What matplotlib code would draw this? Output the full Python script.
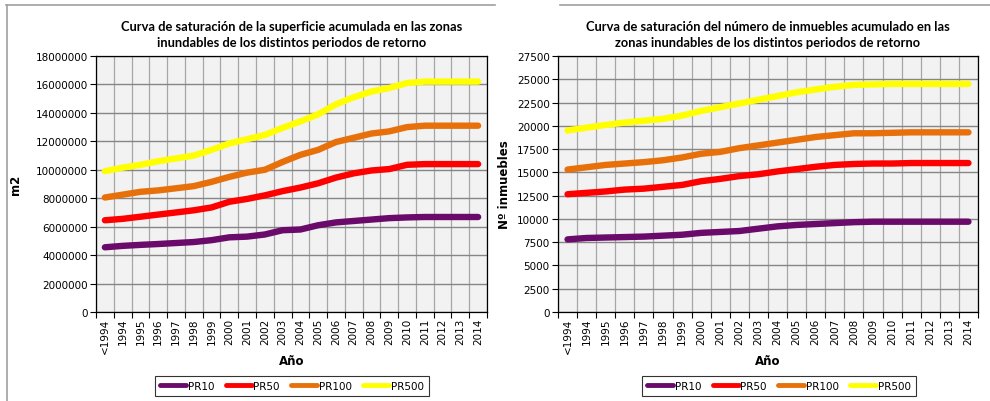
import matplotlib
matplotlib.use("Agg")
import matplotlib.pyplot as plt
from matplotlib.lines import Line2D
from matplotlib.ticker import FuncFormatter

categorias = ['<1994'] + [str(a) for a in range(1994, 2015)]
series = ['PR10', 'PR50', 'PR100', 'PR500']
colores = ['#6a0a6a', '#ff0000', '#e8700a', '#ffff00']

# superficie acumulada (m2)
sup_pr10 = [4550000, 4650000, 4720000, 4780000, 4850000, 4920000, 5050000, 5250000, 5300000, 5450000,
            5750000, 5800000, 6100000, 6300000, 6400000, 6500000, 6600000, 6650000, 6680000, 6680000,
            6680000, 6680000]
sup_pr50 = [6450000, 6550000, 6700000, 6850000, 7000000, 7150000, 7350000, 7750000, 7950000, 8200000,
            8500000, 8750000, 9050000, 9450000, 9750000, 9950000, 10050000, 10350000, 10400000, 10400000,
            10400000, 10400000]
sup_pr100 = [8050000, 8250000, 8450000, 8550000, 8700000, 8850000, 9150000, 9500000, 9800000, 10000000,
             10550000, 11050000, 11400000, 11950000, 12250000, 12550000, 12700000, 13000000, 13100000,
             13100000, 13100000, 13100000]
sup_pr500 = [9900000, 10150000, 10350000, 10600000, 10800000, 11000000, 11400000, 11850000, 12150000,
             12450000, 12950000, 13400000, 13900000, 14600000, 15100000, 15500000, 15750000, 16100000,
             16200000, 16200000, 16200000, 16200000]

# numero de inmuebles
inm_pr10 = [7800, 7950, 8000, 8050, 8100, 8200, 8300, 8500, 8600, 8700, 8950, 9200, 9350, 9450,
            9550, 9650, 9700, 9700, 9700, 9700, 9700, 9700]
inm_pr50 = [12650, 12800, 12950, 13150, 13250, 13450, 13650, 14050, 14300, 14600, 14800, 15100,
            15350, 15600, 15800, 15900, 15950, 15950, 16000, 16000, 16000, 16000]
inm_pr100 = [15300, 15550, 15800, 15950, 16100, 16300, 16600, 17000, 17200, 17600, 17900, 18200,
             18500, 18800, 19000, 19200, 19200, 19250, 19300, 19300, 19300, 19300]
inm_pr500 = [19500, 19800, 20100, 20350, 20550, 20750, 21100, 21600, 22000, 22400, 22800, 23200,
             23600, 23900, 24200, 24400, 24450, 24500, 24500, 24500, 24500, 24500]

titulo1 = 'Curva de saturación de la superficie acumulada en las zonas\ninundables de los distintos periodos de retorno'
titulo2 = 'Curva de saturación del número de inmuebles acumulado en las\nzonas inundables de los distintos periodos de retorno'

plt.rcParams['font.family'] = ['DejaVu Sans']

W, H = 990, 402
fig = plt.figure(figsize=(9.9, 4.02), dpi=100)


def px_axes(x0, y0, x1, y1):
    return fig.add_axes([x0 / W, 1 - y1 / H, (x1 - x0) / W, (y1 - y0) / H])


def draw_panel(ax, datos, ymax, ystep, titulo, ylabel, ytitle_x, leg_x0, leg_x1):
    n = len(categorias)
    xs = list(range(n))
    ax.set_facecolor('#f2f2f2')
    for vals, nombre, c in zip(datos, series, colores):
        ax.plot(xs, vals, color=c, lw=4.6, solid_capstyle='round', solid_joinstyle='round',
                label=nombre, zorder=3)
    ax.set_xlim(-0.5, n - 0.5)
    ax.set_ylim(0, ymax)
    ax.set_yticks(range(0, ymax + 1, ystep))
    ax.yaxis.set_major_formatter(FuncFormatter(lambda v, p: '%d' % v))
    ax.set_xticks([i - 0.5 for i in range(n + 1)])
    ax.set_xticklabels([])
    ax.set_xticks(xs, minor=True)
    ax.set_xticklabels(categorias, minor=True, rotation=90)
    ax.tick_params(axis='x', which='major', length=4, width=0.8, direction='out')
    ax.tick_params(axis='x', which='minor', length=0, labelsize=7.5, pad=4)
    ax.tick_params(axis='y', length=4, width=0.8, labelsize=7.5, pad=2)
    ax.grid(axis='y', color='#868686', lw=1.0, zorder=1)
    ax.grid(axis='x', which='major', color='#a6a6a6', lw=0.9, zorder=1)
    ax.set_axisbelow(True)
    for s in ax.spines.values():
        s.set_color('black')
        s.set_linewidth(0.9)
    ax.set_xlabel('Año', fontsize=8.5, fontweight='bold', labelpad=1)
    fig.text(ytitle_x / W, 1 - 185 / H, ylabel, rotation=90, fontsize=8.5, fontweight='bold',
             ha='center', va='center')
    ax.set_title(titulo, fontsize=9.3, fontweight='bold', family='Lato', pad=7, linespacing=1.4)
    handles, labels = ax.get_legend_handles_labels()
    leg = fig.legend(handles, labels, ncol=4, loc='center',
                     bbox_to_anchor=((leg_x0 + leg_x1) / 2 / W, 1 - 387 / H),
                     fontsize=7.5, frameon=True, fancybox=False, edgecolor='black',
                     handlelength=2.5, handletextpad=0.15, columnspacing=1.1,
                     borderpad=0.45, borderaxespad=0)
    leg.get_frame().set_linewidth(0.8)
    for ln in leg.get_lines():
        ln.set_linewidth(3.5)


ax1 = px_axes(96, 57, 487, 313)
draw_panel(ax1, [sup_pr10, sup_pr50, sup_pr100, sup_pr500], 18000000, 2000000,
           titulo1, 'm2', 15, 161, 423)

ax2 = px_axes(558, 57, 978, 313)
draw_panel(ax2, [inm_pr10, inm_pr50, inm_pr100, inm_pr500], 27500, 2500,
           titulo2, 'Nº inmuebles', 505, 646, 912)

# marcos exteriores
fig.add_artist(Line2D([6 / W, 495 / W], [1 - 5.5 / H, 1 - 5.5 / H], color='#a0a0a0', lw=1.2))
fig.add_artist(Line2D([6.5 / W, 6.5 / W], [1 - 5.5 / H, 0], color='#a0a0a0', lw=1.2))
fig.add_artist(Line2D([560 / W, 990 / W], [1 - 5.5 / H, 1 - 5.5 / H], color='#a0a0a0', lw=1.2))

fig.savefig('out.png', dpi=100, facecolor='white')
